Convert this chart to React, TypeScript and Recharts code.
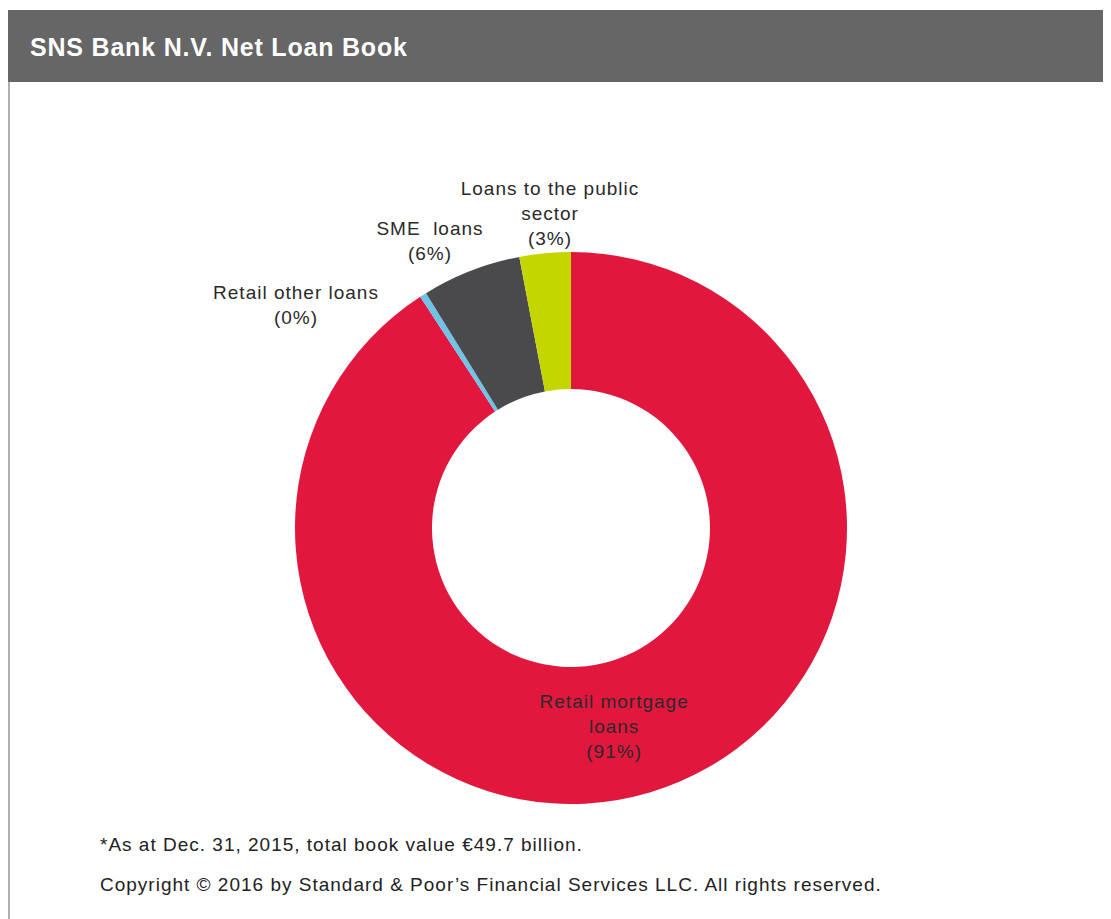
import React from "react";
import { PieChart, Pie, Cell } from "recharts";

const TITLE = "SNS Bank N.V. Net Loan Book";
const CATEGORIES = ["Retail mortgage loans", "Retail other loans", "SME loans", "Loans to the public sector"];
const LABEL_LINES = [["Retail mortgage", "loans"], ["Retail other loans"], ["SME  loans"], ["Loans to the public", "sector"]];
const VALUES = [90.8, 0.4, 5.8, 3.0];
const COLORS = ["#E2173D", "#6EC3E6", "#4A4A4D", "#C4D600"];
const FOOTNOTES = [
  "*As at Dec. 31, 2015, total book value \u20AC49.7 billion.",
  "Copyright \u00A9 2016 by Standard & Poor\u2019s Financial Services LLC. All rights reserved.",
];

// label block centre offsets from the pie centre (outside labels), null = inside ring
const LABEL_OFFSETS: ([number, number] | null)[] = [null, [-275, -223], [-141, -287], [-21, -315]];

const data = CATEGORIES.map((name, i) => ({ name, value: VALUES[i] }));
const total = VALUES.reduce((a, b) => a + b, 0);

const FONT = "'Liberation Sans', Arial, sans-serif";
const RAD = Math.PI / 180;

const renderLabel = (props: any) => {
  const { cx, cy, midAngle, innerRadius, outerRadius, index, value } = props;
  const off = LABEL_OFFSETS[index];
  let x: number, y: number;
  if (off) {
    x = cx + off[0];
    y = cy + off[1];
  } else {
    const r = (innerRadius + outerRadius) / 2;
    x = cx + r * Math.cos(-midAngle * RAD) - 16;
    y = cy - r * Math.sin(midAngle * RAD);
  }
  const lines = [...LABEL_LINES[index], `(${Math.round((value / total) * 100)}%)`];
  const lh = 25;
  const y0 = y - ((lines.length - 1) * lh) / 2;
  return (
    <text key={`lbl-${index}`} x={x} y={y0} textAnchor="middle" fill="#2a2a2a" fontFamily={FONT} fontSize={19} style={{ letterSpacing: "1px", whiteSpace: "pre" }}>
      {lines.map((l, j) => (
        <tspan key={j} x={x} y={y0 + j * lh} dominantBaseline="central">
          {l}
        </tspan>
      ))}
    </text>
  );
};

export default function App() {
  return (
    <div style={{ position: "relative", width: 1103, height: 911, background: "#fff", fontFamily: FONT }}>
      <div style={{ position: "absolute", left: 0, top: 2, width: 1103, height: 72, background: "#666666" }} />
      <div style={{ position: "absolute", left: 22, top: 3, height: 72, lineHeight: "72px", color: "#fff", fontWeight: "bold", fontSize: 25, letterSpacing: "0.8px" }}>
        {TITLE}
      </div>
      <div style={{ position: "absolute", left: 0, top: 74, width: 2, bottom: 0, background: "#b0b0b0" }} />
      <div style={{ position: "absolute", left: 0, top: 0 }}>
        <PieChart width={1103} height={911}>
          <Pie
            data={data}
            dataKey="value"
            nameKey="name"
            cx={558}
            cy={515}
            innerRadius={139}
            outerRadius={276}
            startAngle={90}
            endAngle={-270}
            stroke="none"
            label={renderLabel}
            labelLine={false}
            isAnimationActive={false}
          >
            {data.map((d, i) => (
              <Cell key={d.name} fill={COLORS[i]} />
            ))}
          </Pie>
        </PieChart>
      </div>
      {FOOTNOTES.map((t, i) => (
        <div key={i} style={{ position: "absolute", left: 92, top: 826 + i * 40, fontSize: 19, letterSpacing: "1px", color: "#222", whiteSpace: "pre", lineHeight: "22px" }}>
          {t}
        </div>
      ))}
    </div>
  );
}
